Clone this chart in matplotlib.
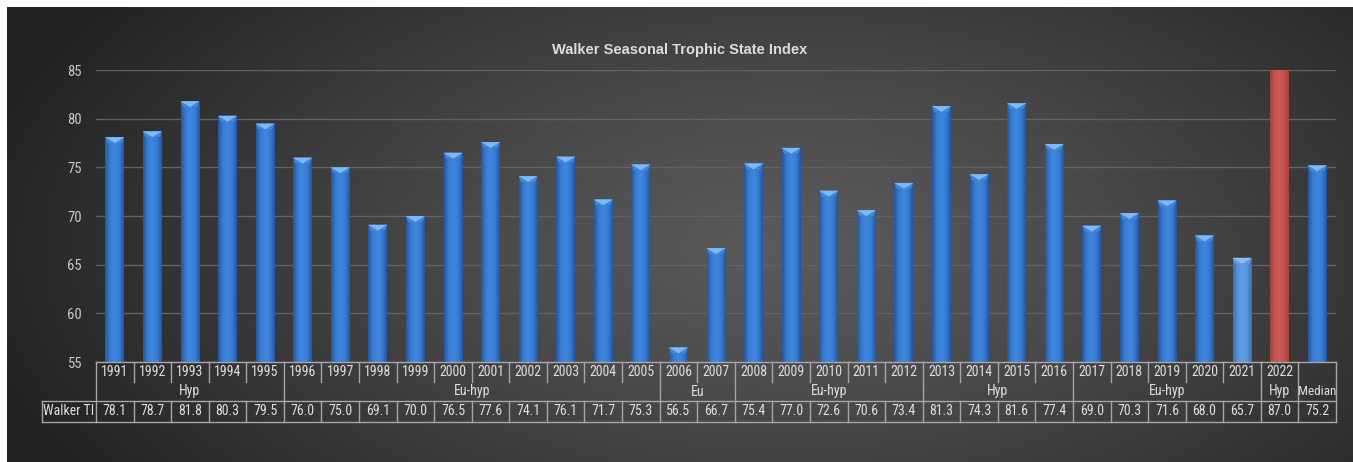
import numpy as np
import matplotlib
matplotlib.use('Agg')
import matplotlib.pyplot as plt
from matplotlib import font_manager
from matplotlib.colors import LinearSegmentedColormap
from matplotlib.patches import Polygon

# chart data
year_labels = ['1991', '1992', '1993', '1994', '1995', '1996', '1997', '1998', '1999', '2000',
               '2001', '2002', '2003', '2004', '2005', '2006', '2007', '2008', '2009', '2010',
               '2011', '2012', '2013', '2014', '2015', '2016', '2017', '2018', '2019', '2020',
               '2021', '2022', '']
walker_ti = [78.1, 78.7, 81.8, 80.3, 79.5, 76.0, 75.0, 69.1, 70.0, 76.5,
             77.6, 74.1, 76.1, 71.7, 75.3, 56.5, 66.7, 75.4, 77.0, 72.6,
             70.6, 73.4, 81.3, 74.3, 81.6, 77.4, 69.0, 70.3, 71.6, 68.0,
             65.7, 87.0, 75.2]
group_names = ['Hyp', 'Eu-hyp', 'Eu', 'Eu-hyp', 'Hyp', 'Eu-hyp', 'Hyp', 'Median']
group_sizes = [5, 10, 2, 5, 4, 5, 1, 1]
row_name = 'Walker TI'
title = 'Walker Seasonal Trophic State Index'


def pick_font(names):
    for n in names:
        try:
            font_manager.findfont(n, fallback_to_default=False)
            return n
        except Exception:
            pass
    return 'DejaVu Sans'


narrow = pick_font(['Liberation Sans Narrow', 'Noto Sans Condensed', 'Roboto Condensed', 'Liberation Sans'])
wide = pick_font(['Liberation Sans', 'DejaVu Sans'])
tsize = 10 if narrow != 'Liberation Sans' else 8.5

W, H = 1353, 462
fig = plt.figure(figsize=(W / 100, H / 100), dpi=100)
fig.patch.set_facecolor('white')

# dark radial background
bg = fig.add_axes([7 / W, 0, 1 - 7 / W, 455 / H])
bg.set_axis_off()
yy, xx = np.mgrid[0:455, 0:1346]
r = np.sqrt(((xx - 780) / 820.0) ** 2 + ((yy - 240) / 420.0) ** 2)
t = np.clip(r, 0, 1) ** 1.2
shade = 0.355 * (1 - t) + 0.14 * t
bg.imshow(np.dstack([shade, shade, shade]), aspect='auto', extent=(0, 1, 0, 1))
bg.set_xlim(0, 1)
bg.set_ylim(0, 1)

top_px, base_px = 70, 362
ax = fig.add_axes([96 / W, (H - base_px) / H, (1336 - 96) / W, (base_px - top_px) / H])
ax.set_facecolor('none')
for s in ax.spines.values():
    s.set_visible(False)

n = len(walker_ti)
x = np.arange(n)
ymin, ymax = 55, 85
bw = 0.5

blue = LinearSegmentedColormap.from_list('b', ['#25579f', '#377cd3', '#3f87de', '#377cd3', '#25579f'])
lblue = LinearSegmentedColormap.from_list('lb', ['#3b6fb6', '#5593da', '#5e9de3', '#5593da', '#3b6fb6'])
red = LinearSegmentedColormap.from_list('r', ['#a4403d', '#c4524e', '#cc5a55', '#c4524e', '#a4403d'])
special = {'2021': (lblue, '#8cbff0'), '2022': (red, '#e07a76')}

bars = ax.bar(x, walker_ti, width=bw, color='#377cd3', zorder=2)
grad = np.linspace(0, 1, 64).reshape(1, -1)
for i, b in enumerate(bars):
    cmap, bevel = special.get(year_labels[i], (blue, '#7fb8f2'))
    top = min(walker_ti[i], ymax)
    im = ax.imshow(grad, cmap=cmap, aspect='auto', zorder=3,
                   extent=(x[i] - bw / 2, x[i] + bw / 2, ymin, top))
    im.set_clip_path(b)
    if walker_ti[i] < ymax:
        d = 0.6
        ax.add_patch(Polygon([(x[i] - bw / 2, top), (x[i] + bw / 2, top),
                              (x[i] + bw / 2 - 0.06, top - d), (x[i] - bw / 2 + 0.06, top - d)],
                             closed=True, facecolor=cmap(0.5), edgecolor='none', zorder=4))
        ax.add_patch(Polygon([(x[i] - bw / 2, top), (x[i] + bw / 2, top),
                              (x[i], top - d)],
                             closed=True, facecolor=bevel, edgecolor='none', zorder=4))

ax.set_xlim(-0.5, n - 0.5)
ax.set_ylim(ymin, ymax)
ax.set_yticks(range(55, 86, 5))
ax.set_xticks([])
ax.tick_params(axis='y', length=0, pad=10, labelcolor='#c8c8c8', labelsize=10.5)
for lab in ax.get_yticklabels():
    lab.set_fontfamily(narrow)
ax.yaxis.grid(True, color='#626262', lw=1)
ax.set_axisbelow(True)

# table below the plot
tr = ax.get_xaxis_transform()
ph = base_px - top_px


def fy(py):
    return (base_px - py) / ph


def px2x(px):
    return -0.5 + (px - 96) * n / (1336 - 96)


r0, r1, r2, r3 = 362, 381.5, 401, 421.5
lc = '#a6a6a6'
lkw = dict(color=lc, lw=1, transform=tr, clip_on=False, zorder=5)
tkw = dict(color='#dedede', fontsize=tsize, family=narrow, transform=tr, ha='center', va='center', clip_on=False)

ax.plot([-0.5, n - 0.5], [fy(r0), fy(r0)], **lkw)
ax.plot([px2x(42.5), n - 0.5], [fy(r2), fy(r2)], **lkw)
ax.plot([px2x(42.5), n - 0.5], [fy(r3), fy(r3)], **lkw)
ax.plot([px2x(42.5), px2x(42.5)], [fy(r2), fy(r3)], **lkw)
ax.plot([-0.5, -0.5], [fy(r0), fy(r3)], **lkw)
ax.plot([n - 0.5, n - 0.5], [fy(r0), fy(r3)], **lkw)

bounds = np.cumsum(group_sizes)[:-1] - 0.5
for i in range(n - 1):
    xb = i + 0.5
    if xb in bounds:
        ax.plot([xb, xb], [fy(r0), fy(r2)], **lkw)
    else:
        ax.plot([xb, xb], [fy(r0), fy(r1)], **lkw)
    ax.plot([xb, xb], [fy(r2), fy(r3)], **lkw)

for i in range(n):
    if year_labels[i]:
        ax.text(x[i], fy((r0 + r1) / 2 + 0.5), year_labels[i], **tkw)
    ax.text(x[i], fy((r2 + r3) / 2), '%.1f' % walker_ti[i], **tkw)

start = 0
for name, size in zip(group_names, group_sizes):
    kw = dict(tkw)
    if size == 1 and len(name) > 4:
        kw['fontsize'] = tsize - 0.5
    ax.text(start + (size - 1) / 2, fy(391.5), name, **kw)
    start += size

ax.text(px2x(69), fy((r2 + r3) / 2), row_name, **tkw)

fig.text(680 / W, 1 - 50 / H, title, ha='center', va='center', color='#dcdcdc',
         fontsize=10.5, fontweight='bold', family=wide)

fig.savefig('out.png', dpi=100, facecolor='white')
